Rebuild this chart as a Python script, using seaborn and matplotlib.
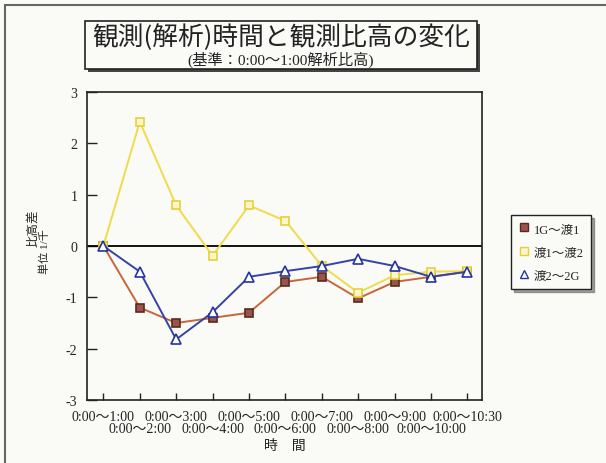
import matplotlib
matplotlib.use("Agg")
import matplotlib.pyplot as plt
from matplotlib.lines import Line2D
from matplotlib.patches import Rectangle
import seaborn as sns
import pandas as pd

# data
periods = ["0:00～1:00", "0:00～2:00", "0:00～3:00", "0:00～4:00", "0:00～5:00",
           "0:00～6:00", "0:00～7:00", "0:00～8:00", "0:00～9:00", "0:00～10:00",
           "0:00～10:30"]
series_names = ["1G～渡1", "渡1～渡2", "渡2～2G"]
g1_w1 = [0, -1.2, -1.5, -1.4, -1.3, -0.7, -0.6, -1.02, -0.7, -0.6, -0.5]
w1_w2 = [0, 2.42, 0.79, -0.19, 0.79, 0.49, -0.39, -0.91, -0.57, -0.5, -0.49]
w2_g2 = [0, -0.5, -1.82, -1.29, -0.6, -0.49, -0.39, -0.25, -0.39, -0.6, -0.5]
y_ticks = [-3, -2, -1, 0, 1, 2, 3]

sns.set_style("ticks")
plt.rcParams['font.family'] = ['Liberation Serif', 'Noto Sans CJK JP']
plt.rcParams['axes.unicode_minus'] = False
mixed = ['Liberation Serif', 'Noto Sans CJK JP']
cjk = ['Noto Sans CJK JP', 'DejaVu Sans']

W, H = 606, 464
bg = '#fafaf7'
fig = plt.figure(figsize=(W / 100, H / 100), dpi=100, facecolor=bg)
ax = fig.add_axes([87 / W, 1 - 401 / H, (482 - 87) / W, (401 - 93) / H])
ax.set_facecolor(bg)

styles = [
    dict(color='#c8663a', marker='s', markersize=6, markerfacecolor='#9b5548', markeredgecolor='#5a2a20'),
    dict(color='#efdc48', marker='s', markersize=6, markerfacecolor='#fdf6c8', markeredgecolor='#e6d03a'),
    dict(color='#3444a6', marker='^', markersize=7, markerfacecolor='white', markeredgecolor='#2434a0'),
]

ax.axhline(0, color='black', lw=1.3, zorder=1)
for name, vals, st in zip(series_names, [g1_w1, w1_w2, w2_g2], styles):
    df = pd.DataFrame({'x': range(len(periods)), 'y': vals})
    sns.lineplot(data=df, x='x', y='y', ax=ax, lw=1.4, markeredgewidth=1.2, **st)

ax.set_xlim(-0.45, 10.4)
ax.set_ylim(-3, 3)
ax.set_xlabel('')
ax.set_ylabel('')

ax.set_xticks(range(0, len(periods), 2))
ax.set_xticklabels(periods[0::2], fontsize=10, family=mixed)
ax.set_xticks(range(1, len(periods), 2), minor=True)
ax.set_xticklabels(periods[1::2], minor=True, fontsize=10, family=mixed)
ax.tick_params(axis='x', which='both', direction='in', length=5, width=1, colors='#222')
ax.tick_params(axis='x', which='major', pad=7)
ax.tick_params(axis='x', which='minor', pad=16)

ax.set_yticks(y_ticks)
ax.set_yticklabels([str(v) for v in y_ticks], fontsize=10)
ax.tick_params(axis='y', direction='in', length=7, width=1, pad=7, colors='#222')
for s in ax.spines.values():
    s.set_color('#222')
    s.set_linewidth(1.2)

# page frame from the scan
fig.add_artist(Line2D([5 / W, 5 / W], [0, 1 - 6 / H], transform=fig.transFigure, color='#666', lw=1.5))
fig.add_artist(Line2D([5 / W, 1], [1 - 6 / H, 1 - 6 / H], transform=fig.transFigure, color='#666', lw=1.5))

# title box with shadow
bx, by, bw, bh = 85 / W, 1 - 70 / H, 392 / W, 48 / H
fig.add_artist(Rectangle((bx + 3 / W, by - 3 / H), bw, bh, transform=fig.transFigure,
                         facecolor='#444', edgecolor='none'))
fig.add_artist(Rectangle((bx, by), bw, bh, transform=fig.transFigure,
                         facecolor=bg, edgecolor='#222', lw=1.2))
fig.text(281 / W, 1 - 38 / H, '観測(解析)時間と観測比高の変化', fontsize=18.5,
         family=cjk, ha='center', va='center', color='#222')
fig.text(281 / W, 1 - 60 / H, '(基準：0:00～1:00解析比高)', fontsize=11,
         family=mixed, ha='center', va='center', color='#222')

# axis titles
fig.text(33 / W, 1 - 228 / H, '比高差', fontsize=9, family=cjk, rotation=90,
         ha='center', va='center', color='#222')
fig.text(45 / W, 1 - 252 / H, '単位 1/千', fontsize=8, family=mixed, rotation=90,
         ha='center', va='center', color='#222')
fig.text(285 / W, 1 - 446 / H, '時　間', fontsize=10, family=cjk,
         ha='center', va='center', color='#222')

# legend
handles = [Line2D([], [], ls='none', marker=st['marker'], markersize=6,
                  markerfacecolor=st['markerfacecolor'], markeredgecolor=st['markeredgecolor'])
           for st in styles]
leg = fig.legend(handles, series_names, loc='upper left', bbox_to_anchor=(505 / W, 1 - 210 / H),
                 frameon=True, fancybox=False, shadow=True, framealpha=1, edgecolor='#222',
                 facecolor=bg, handlelength=0.8, handletextpad=0.4, labelspacing=0.9,
                 borderpad=0.6, prop={'family': mixed, 'size': 9})
leg.get_frame().set_linewidth(1)

fig.savefig('out.png', dpi=100, facecolor=bg)
